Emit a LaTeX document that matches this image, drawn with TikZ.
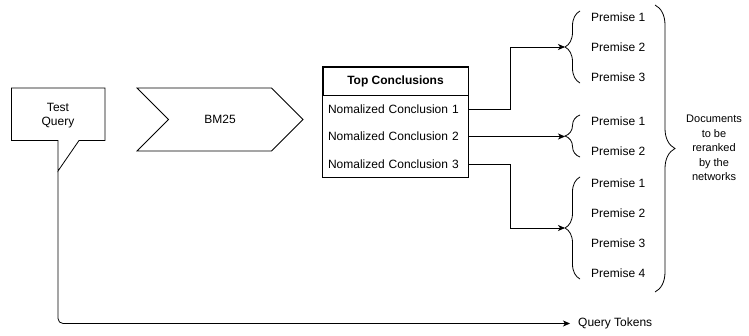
\documentclass[tikz,border=0pt]{standalone}
\usepackage{fontspec}
\setmainfont{Liberation Sans}
\usetikzlibrary{positioning,shapes.symbols,decorations.pathreplacing,arrows.meta}

\begin{document}
\begin{tikzpicture}[x=1pt,y=-1pt,font=\fontsize{12}{14}\selectfont,
  ln/.style={line width=0.8pt},
  arr/.style={line width=0.8pt,-{Stealth[length=7pt,width=6pt,inset=2pt]}},
  lbrace/.style={line width=0.8pt,decorate,decoration={brace,amplitude=15pt}},
  rbrace/.style={line width=0.8pt,decorate,decoration={brace,amplitude=20pt}},
  premise/.style={anchor=west,inner sep=0pt},
  row/.style={text width=135pt,inner xsep=5pt,inner ysep=0pt,minimum height=27pt,align=left}]
  \useasboundingbox (0,0) rectangle (749,335);

  % query callout
  \draw[ln] (11.5,88) -- (105,88) -- (105,140.5) -- (79,140.5) -- (58,171) -- (58,140.5) -- (11.5,140.5) -- cycle;
  \node[align=center] (query) at (58,116) {Test\\Query};
  \coordinate (qtip) at (58,171);

  % retrieval step
  \node[ln,draw,signal,signal to=east,signal from=west,signal pointer angle=90,
    minimum width=166pt,minimum height=63pt] (bm) at (220,119.5) {BM25};

  % conclusions table
  \node[ln,draw,minimum width=145pt,minimum height=28pt,font=\fontsize{12}{14}\selectfont\bfseries] (head) at (395.5,81) {Top Conclusions};
  \node[row,below=0pt of head] (c1) {Nomalized Conclusion 1};
  \node[row,below=0pt of c1] (c2) {Nomalized Conclusion 2};
  \node[row,below=0pt of c2] (c3) {Nomalized Conclusion 3};
  \draw[ln] (head.north west) rectangle (head.east |- c3.south);

  % premises
  \node[premise] (p11) at (591,17) {Premise 1};
  \node[premise] (p12) at (591,47) {Premise 2};
  \node[premise] (p13) at (591,77) {Premise 3};
  \node[premise] (p21) at (591,121) {Premise 1};
  \node[premise] (p22) at (591,151) {Premise 2};
  \node[premise] (p31) at (591,183) {Premise 1};
  \node[premise] (p32) at (591,213) {Premise 2};
  \node[premise] (p33) at (591,243) {Premise 3};
  \node[premise] (p34) at (591,273) {Premise 4};

  \draw[lbrace] (580,83) -- (580,11);
  \draw[lbrace] (580,157) -- (580,115);
  \draw[lbrace] (580,279) -- (580,177);
  \coordinate (b1) at (565,47);
  \coordinate (b2) at (565,136);
  \coordinate (b3) at (565,228);

  \draw[rbrace] (655,5) -- (655,292);
  \node[font=\fontsize{11}{14.5}\selectfont,align=center] (docs) at (714,148) {Documents\\to be\\reranked\\by the\\networks};

  \node[premise] (tokens) at (578,323.5) {Query Tokens};

  % connectors
  \draw[arr] (c1.east) -- ++(42,0) |- (b1);
  \draw[arr] (c2.east) -- (c2.east -| b2);
  \draw[arr] (c3.east) -- ++(42,0) |- (b3);
  \draw[arr,rounded corners=5pt] (qtip) |- ([xshift=-8pt]tokens.west);
\end{tikzpicture}
\end{document}
